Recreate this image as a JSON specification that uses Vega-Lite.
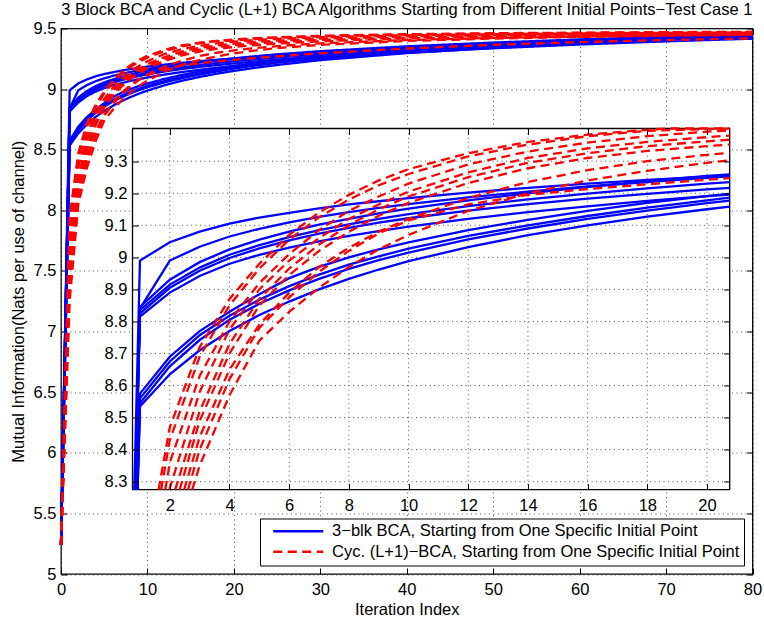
{
  "$schema": "https://vega.github.io/schema/vega-lite/v6.json",
  "background": "white",
  "padding": {"left": 10, "top": 1.5, "right": 0, "bottom": 0},
  "width": 691.5,
  "height": 545.5,
  "title": {
    "text": "3 Block BCA and Cyclic (L+1) BCA Algorithms Starting from Different Initial Points−Test Case 1",
    "fontSize": 16.5,
    "fontWeight": "normal",
    "color": "black",
    "frame": "group",
    "anchor": "middle",
    "offset": 2.5
  },
  "view": {"stroke": "black", "strokeWidth": 1.3},
  "config": {
    "font": "Liberation Sans",
    "axis": {
      "domain": false,
      "tickSize": -6,
      "tickColor": "black",
      "tickWidth": 1,
      "labelFontSize": 16.5,
      "labelColor": "black",
      "labelFlush": false,
      "labelOverlap": false,
      "labelBound": false,
      "titleFontSize": 16.5,
      "titleFontWeight": "normal",
      "titleColor": "black",
      "gridColor": "#555555",
      "gridDash": [1, 3.5],
      "gridOpacity": 1,
      "gridWidth": 1
    },
    "legend": {
      "orient": "bottom-right",
      "offset": 8.5,
      "fillColor": "white",
      "strokeColor": "black",
      "padding": 4.5,
      "symbolType": "M-5,0H5",
      "symbolSize": 100,
      "symbolOffset": 25.5,
      "symbolStrokeWidth": 2.3,
      "labelFontSize": 16.5,
      "labelColor": "black",
      "labelLimit": 700,
      "labelOffset": 25.6,
      "rowPadding": 3.5
    }
  },
  "datasets": {
    "blue": [
      {"x": 0, "B1": 5.24, "B2": 5.24, "B3": 5.24, "B4": 5.24, "B5": 5.24, "B6": 5.24, "B7": 5.24, "B8": 5.24, "B9": 5.24, "B10": 5.24},
      {"x": 1, "B1": 8.99, "B2": 8.84, "B3": 8.845, "B4": 8.835, "B5": 8.825, "B6": 8.815, "B7": 8.575, "B8": 8.56, "B9": 8.545, "B10": 8.535},
      {"x": 2, "B1": 9.047, "B2": 8.99, "B3": 8.93, "B4": 8.915, "B5": 8.905, "B6": 8.89, "B7": 8.69, "B8": 8.675, "B9": 8.66, "B10": 8.635},
      {"x": 3, "B1": 9.08, "B2": 9.033, "B3": 8.985, "B4": 8.968, "B5": 8.958, "B6": 8.942, "B7": 8.77, "B8": 8.757, "B9": 8.742, "B10": 8.71},
      {"x": 4, "B1": 9.105, "B2": 9.065, "B3": 9.025, "B4": 9.008, "B5": 8.998, "B6": 8.98, "B7": 8.83, "B8": 8.818, "B9": 8.805, "B10": 8.77},
      {"x": 5, "B1": 9.124, "B2": 9.089, "B3": 9.055, "B4": 9.038, "B5": 9.028, "B6": 9.008, "B7": 8.885, "B8": 8.868, "B9": 8.855, "B10": 8.82},
      {"x": 6, "B1": 9.139, "B2": 9.109, "B3": 9.08, "B4": 9.063, "B5": 9.053, "B6": 9.03, "B7": 8.935, "B8": 8.91, "B9": 8.897, "B10": 8.862},
      {"x": 7, "B1": 9.153, "B2": 9.126, "B3": 9.102, "B4": 9.085, "B5": 9.074, "B6": 9.05, "B7": 8.97, "B8": 8.946, "B9": 8.933, "B10": 8.9},
      {"x": 8, "B1": 9.165, "B2": 9.141, "B3": 9.12, "B4": 9.103, "B5": 9.092, "B6": 9.067, "B7": 9.0, "B8": 8.977, "B9": 8.964, "B10": 8.933},
      {"x": 9, "B1": 9.175, "B2": 9.154, "B3": 9.137, "B4": 9.12, "B5": 9.108, "B6": 9.082, "B7": 9.025, "B8": 9.003, "B9": 8.991, "B10": 8.962},
      {"x": 10, "B1": 9.185, "B2": 9.166, "B3": 9.152, "B4": 9.135, "B5": 9.122, "B6": 9.096, "B7": 9.047, "B8": 9.027, "B9": 9.015, "B10": 8.988},
      {"x": 12, "B1": 9.202, "B2": 9.187, "B3": 9.178, "B4": 9.16, "B5": 9.146, "B6": 9.12, "B7": 9.085, "B8": 9.067, "B9": 9.056, "B10": 9.032},
      {"x": 14, "B1": 9.217, "B2": 9.205, "B3": 9.2, "B4": 9.181, "B5": 9.166, "B6": 9.141, "B7": 9.117, "B8": 9.1, "B9": 9.09, "B10": 9.069},
      {"x": 16, "B1": 9.23, "B2": 9.221, "B3": 9.22, "B4": 9.199, "B5": 9.183, "B6": 9.159, "B7": 9.145, "B8": 9.129, "B9": 9.12, "B10": 9.1},
      {"x": 18, "B1": 9.242, "B2": 9.235, "B3": 9.238, "B4": 9.215, "B5": 9.198, "B6": 9.176, "B7": 9.17, "B8": 9.155, "B9": 9.146, "B10": 9.127},
      {"x": 20, "B1": 9.252, "B2": 9.248, "B3": 9.254, "B4": 9.23, "B5": 9.212, "B6": 9.191, "B7": 9.191, "B8": 9.178, "B9": 9.169, "B10": 9.15},
      {"x": 22, "B1": 9.263, "B2": 9.26, "B3": 9.268, "B4": 9.243, "B5": 9.225, "B6": 9.205, "B7": 9.21, "B8": 9.198, "B9": 9.19, "B10": 9.171},
      {"x": 25, "B1": 9.276, "B2": 9.276, "B3": 9.287, "B4": 9.261, "B5": 9.243, "B6": 9.225, "B7": 9.236, "B8": 9.225, "B9": 9.217, "B10": 9.199},
      {"x": 30, "B1": 9.297, "B2": 9.299, "B3": 9.313, "B4": 9.287, "B5": 9.27, "B6": 9.254, "B7": 9.272, "B8": 9.262, "B9": 9.255, "B10": 9.239},
      {"x": 40, "B1": 9.332, "B2": 9.339, "B3": 9.353, "B4": 9.327, "B5": 9.312, "B6": 9.3, "B7": 9.323, "B8": 9.316, "B9": 9.31, "B10": 9.297},
      {"x": 50, "B1": 9.362, "B2": 9.371, "B3": 9.384, "B4": 9.359, "B5": 9.346, "B6": 9.337, "B7": 9.361, "B8": 9.355, "B9": 9.35, "B10": 9.34},
      {"x": 60, "B1": 9.388, "B2": 9.399, "B3": 9.41, "B4": 9.386, "B5": 9.375, "B6": 9.368, "B7": 9.391, "B8": 9.386, "B9": 9.382, "B10": 9.374},
      {"x": 70, "B1": 9.413, "B2": 9.423, "B3": 9.432, "B4": 9.409, "B5": 9.4, "B6": 9.394, "B7": 9.415, "B8": 9.41, "B9": 9.407, "B10": 9.4},
      {"x": 80, "B1": 9.435, "B2": 9.445, "B3": 9.45, "B4": 9.428, "B5": 9.422, "B6": 9.416, "B7": 9.435, "B8": 9.43, "B9": 9.428, "B10": 9.422}
    ],
    "red": [
      {"x": 0, "R1": 5.24, "R2": 5.24, "R3": 5.24, "R4": 5.24, "R5": 5.24, "R6": 5.24, "R7": 5.24, "R8": 5.24, "R9": 5.24},
      {"x": 1, "R1": 7.95, "R2": 7.9, "R3": 7.8, "R4": 7.7, "R5": 7.6, "R6": 7.5, "R7": 7.4, "R8": 7.25, "R9": 7.35},
      {"x": 2, "R1": 8.47, "R2": 8.43, "R3": 8.36, "R4": 8.28, "R5": 8.22, "R6": 8.17, "R7": 8.12, "R8": 8.05, "R9": 8.08},
      {"x": 3, "R1": 8.72, "R2": 8.69, "R3": 8.63, "R4": 8.58, "R5": 8.52, "R6": 8.49, "R7": 8.44, "R8": 8.35, "R9": 8.4},
      {"x": 4, "R1": 8.87, "R2": 8.85, "R3": 8.8, "R4": 8.775, "R5": 8.73, "R6": 8.7, "R7": 8.65, "R8": 8.57, "R9": 8.62},
      {"x": 5, "R1": 8.98, "R2": 8.965, "R3": 8.92, "R4": 8.9, "R5": 8.87, "R6": 8.85, "R7": 8.79, "R8": 8.74, "R9": 8.78},
      {"x": 6, "R1": 9.07, "R2": 9.055, "R3": 9.01, "R4": 8.99, "R5": 8.965, "R6": 8.945, "R7": 8.89, "R8": 8.83, "R9": 8.875},
      {"x": 7, "R1": 9.14, "R2": 9.125, "R3": 9.085, "R4": 9.06, "R5": 9.04, "R6": 9.02, "R7": 8.97, "R8": 8.905, "R9": 8.955},
      {"x": 8, "R1": 9.195, "R2": 9.18, "R3": 9.145, "R4": 9.12, "R5": 9.1, "R6": 9.08, "R7": 9.03, "R8": 8.97, "R9": 9.02},
      {"x": 9, "R1": 9.24, "R2": 9.225, "R3": 9.19, "R4": 9.165, "R5": 9.15, "R6": 9.13, "R7": 9.08, "R8": 9.025, "R9": 9.075},
      {"x": 10, "R1": 9.275, "R2": 9.26, "R3": 9.23, "R4": 9.205, "R5": 9.19, "R6": 9.17, "R7": 9.12, "R8": 9.07, "R9": 9.115},
      {"x": 12, "R1": 9.325, "R2": 9.315, "R3": 9.29, "R4": 9.265, "R5": 9.25, "R6": 9.232, "R7": 9.185, "R8": 9.145, "R9": 9.165},
      {"x": 14, "R1": 9.36, "R2": 9.352, "R3": 9.33, "R4": 9.31, "R5": 9.295, "R6": 9.278, "R7": 9.235, "R8": 9.2, "R9": 9.195},
      {"x": 16, "R1": 9.383, "R2": 9.378, "R3": 9.358, "R4": 9.34, "R5": 9.325, "R6": 9.31, "R7": 9.272, "R8": 9.24, "R9": 9.213},
      {"x": 18, "R1": 9.398, "R2": 9.395, "R3": 9.378, "R4": 9.36, "R5": 9.347, "R6": 9.332, "R7": 9.3, "R8": 9.27, "R9": 9.228},
      {"x": 20, "R1": 9.41, "R2": 9.4, "R3": 9.392, "R4": 9.375, "R5": 9.362, "R6": 9.347, "R7": 9.32, "R8": 9.295, "R9": 9.242},
      {"x": 22, "R1": 9.418, "R2": 9.412, "R3": 9.402, "R4": 9.387, "R5": 9.374, "R6": 9.36, "R7": 9.336, "R8": 9.315, "R9": 9.254},
      {"x": 25, "R1": 9.428, "R2": 9.424, "R3": 9.414, "R4": 9.4, "R5": 9.388, "R6": 9.376, "R7": 9.355, "R8": 9.338, "R9": 9.27},
      {"x": 30, "R1": 9.44, "R2": 9.436, "R3": 9.428, "R4": 9.416, "R5": 9.405, "R6": 9.395, "R7": 9.378, "R8": 9.365, "R9": 9.295},
      {"x": 40, "R1": 9.453, "R2": 9.45, "R3": 9.444, "R4": 9.435, "R5": 9.426, "R6": 9.418, "R7": 9.405, "R8": 9.397, "R9": 9.335},
      {"x": 50, "R1": 9.461, "R2": 9.458, "R3": 9.453, "R4": 9.446, "R5": 9.44, "R6": 9.433, "R7": 9.422, "R8": 9.417, "R9": 9.365},
      {"x": 60, "R1": 9.466, "R2": 9.463, "R3": 9.459, "R4": 9.453, "R5": 9.448, "R6": 9.443, "R7": 9.434, "R8": 9.43, "R9": 9.388},
      {"x": 70, "R1": 9.47, "R2": 9.467, "R3": 9.463, "R4": 9.458, "R5": 9.454, "R6": 9.45, "R7": 9.443, "R8": 9.44, "R9": 9.405},
      {"x": 80, "R1": 9.473, "R2": 9.47, "R3": 9.466, "R4": 9.462, "R5": 9.458, "R6": 9.455, "R7": 9.45, "R8": 9.447, "R9": 9.418}
    ],
    "blue_inset": [
      {"x": 0.81, "B1": 8.275},
      {"x": 0.843, "B2": 8.275, "B3": 8.275, "B4": 8.275},
      {"x": 0.848, "B5": 8.275, "B6": 8.275},
      {"x": 0.91, "B7": 8.275, "B8": 8.275},
      {"x": 0.92, "B9": 8.275, "B10": 8.275},
      {"x": 1, "B1": 8.99, "B2": 8.84, "B3": 8.845, "B4": 8.835, "B5": 8.825, "B6": 8.815, "B7": 8.575, "B8": 8.56, "B9": 8.545, "B10": 8.535},
      {"x": 2, "B1": 9.047, "B2": 8.99, "B3": 8.93, "B4": 8.915, "B5": 8.905, "B6": 8.89, "B7": 8.69, "B8": 8.675, "B9": 8.66, "B10": 8.635},
      {"x": 3, "B1": 9.08, "B2": 9.033, "B3": 8.985, "B4": 8.968, "B5": 8.958, "B6": 8.942, "B7": 8.77, "B8": 8.757, "B9": 8.742, "B10": 8.71},
      {"x": 4, "B1": 9.105, "B2": 9.065, "B3": 9.025, "B4": 9.008, "B5": 8.998, "B6": 8.98, "B7": 8.83, "B8": 8.818, "B9": 8.805, "B10": 8.77},
      {"x": 5, "B1": 9.124, "B2": 9.089, "B3": 9.055, "B4": 9.038, "B5": 9.028, "B6": 9.008, "B7": 8.885, "B8": 8.868, "B9": 8.855, "B10": 8.82},
      {"x": 6, "B1": 9.139, "B2": 9.109, "B3": 9.08, "B4": 9.063, "B5": 9.053, "B6": 9.03, "B7": 8.935, "B8": 8.91, "B9": 8.897, "B10": 8.862},
      {"x": 7, "B1": 9.153, "B2": 9.126, "B3": 9.102, "B4": 9.085, "B5": 9.074, "B6": 9.05, "B7": 8.97, "B8": 8.946, "B9": 8.933, "B10": 8.9},
      {"x": 8, "B1": 9.165, "B2": 9.141, "B3": 9.12, "B4": 9.103, "B5": 9.092, "B6": 9.067, "B7": 9.0, "B8": 8.977, "B9": 8.964, "B10": 8.933},
      {"x": 9, "B1": 9.175, "B2": 9.154, "B3": 9.137, "B4": 9.12, "B5": 9.108, "B6": 9.082, "B7": 9.025, "B8": 9.003, "B9": 8.991, "B10": 8.962},
      {"x": 10, "B1": 9.185, "B2": 9.166, "B3": 9.152, "B4": 9.135, "B5": 9.122, "B6": 9.096, "B7": 9.047, "B8": 9.027, "B9": 9.015, "B10": 8.988},
      {"x": 12, "B1": 9.202, "B2": 9.187, "B3": 9.178, "B4": 9.16, "B5": 9.146, "B6": 9.12, "B7": 9.085, "B8": 9.067, "B9": 9.056, "B10": 9.032},
      {"x": 14, "B1": 9.217, "B2": 9.205, "B3": 9.2, "B4": 9.181, "B5": 9.166, "B6": 9.141, "B7": 9.117, "B8": 9.1, "B9": 9.09, "B10": 9.069},
      {"x": 16, "B1": 9.23, "B2": 9.221, "B3": 9.22, "B4": 9.199, "B5": 9.183, "B6": 9.159, "B7": 9.145, "B8": 9.129, "B9": 9.12, "B10": 9.1},
      {"x": 18, "B1": 9.242, "B2": 9.235, "B3": 9.238, "B4": 9.215, "B5": 9.198, "B6": 9.176, "B7": 9.17, "B8": 9.155, "B9": 9.146, "B10": 9.127},
      {"x": 20, "B1": 9.252, "B2": 9.248, "B3": 9.254, "B4": 9.23, "B5": 9.212, "B6": 9.191, "B7": 9.191, "B8": 9.178, "B9": 9.169, "B10": 9.15},
      {"x": 20.76, "B1": 9.256, "B2": 9.253, "B3": 9.259, "B4": 9.235, "B5": 9.217, "B6": 9.196, "B7": 9.198, "B8": 9.186, "B9": 9.177, "B10": 9.158}
    ],
    "red_inset": [
      {"x": 1.625, "R1": 8.275},
      {"x": 1.71, "R2": 8.275},
      {"x": 1.85, "R3": 8.275},
      {"x": 1.99, "R4": 8.275},
      {"x": 2, "R1": 8.47, "R2": 8.43, "R3": 8.36, "R4": 8.28},
      {"x": 2.18, "R5": 8.275},
      {"x": 2.33, "R6": 8.275},
      {"x": 2.48, "R7": 8.275},
      {"x": 2.61, "R9": 8.275},
      {"x": 2.75, "R8": 8.275},
      {"x": 3, "R1": 8.72, "R2": 8.69, "R3": 8.63, "R4": 8.58, "R5": 8.52, "R6": 8.49, "R7": 8.44, "R8": 8.35, "R9": 8.4},
      {"x": 4, "R1": 8.87, "R2": 8.85, "R3": 8.8, "R4": 8.775, "R5": 8.73, "R6": 8.7, "R7": 8.65, "R8": 8.57, "R9": 8.62},
      {"x": 5, "R1": 8.98, "R2": 8.965, "R3": 8.92, "R4": 8.9, "R5": 8.87, "R6": 8.85, "R7": 8.79, "R8": 8.74, "R9": 8.78},
      {"x": 6, "R1": 9.07, "R2": 9.055, "R3": 9.01, "R4": 8.99, "R5": 8.965, "R6": 8.945, "R7": 8.89, "R8": 8.83, "R9": 8.875},
      {"x": 7, "R1": 9.14, "R2": 9.125, "R3": 9.085, "R4": 9.06, "R5": 9.04, "R6": 9.02, "R7": 8.97, "R8": 8.905, "R9": 8.955},
      {"x": 8, "R1": 9.195, "R2": 9.18, "R3": 9.145, "R4": 9.12, "R5": 9.1, "R6": 9.08, "R7": 9.03, "R8": 8.97, "R9": 9.02},
      {"x": 9, "R1": 9.24, "R2": 9.225, "R3": 9.19, "R4": 9.165, "R5": 9.15, "R6": 9.13, "R7": 9.08, "R8": 9.025, "R9": 9.075},
      {"x": 10, "R1": 9.275, "R2": 9.26, "R3": 9.23, "R4": 9.205, "R5": 9.19, "R6": 9.17, "R7": 9.12, "R8": 9.07, "R9": 9.115},
      {"x": 12, "R1": 9.325, "R2": 9.315, "R3": 9.29, "R4": 9.265, "R5": 9.25, "R6": 9.232, "R7": 9.185, "R8": 9.145, "R9": 9.165},
      {"x": 14, "R1": 9.36, "R2": 9.352, "R3": 9.33, "R4": 9.31, "R5": 9.295, "R6": 9.278, "R7": 9.235, "R8": 9.2, "R9": 9.195},
      {"x": 16, "R1": 9.383, "R2": 9.378, "R3": 9.358, "R4": 9.34, "R5": 9.325, "R6": 9.31, "R7": 9.272, "R8": 9.24, "R9": 9.213},
      {"x": 18, "R1": 9.398, "R2": 9.395, "R3": 9.378, "R4": 9.36, "R5": 9.347, "R6": 9.332, "R7": 9.3, "R8": 9.27, "R9": 9.228},
      {"x": 18.7, "R1": 9.402},
      {"x": 20, "R2": 9.4, "R3": 9.392, "R4": 9.375, "R5": 9.362, "R6": 9.347, "R7": 9.32, "R8": 9.295, "R9": 9.242},
      {"x": 20.76, "R1": 9.402, "R2": 9.402, "R3": 9.396, "R4": 9.38, "R5": 9.367, "R6": 9.352, "R7": 9.326, "R8": 9.303, "R9": 9.247}
    ]
  },
  "layer": [
    {
      "layer": [
        {
          "data": {"name": "blue"},
          "transform": [{"fold": ["B1", "B2", "B3", "B4", "B5", "B6", "B7", "B8", "B9", "B10"], "as": ["curve", "v"]}],
          "mark": {"type": "line", "strokeWidth": 2.3},
          "encoding": {
            "x": {
              "field": "x", "type": "quantitative",
              "scale": {"domain": [0, 80], "nice": false, "zero": false},
              "axis": {"orient": "bottom", "title": "Iteration Index", "values": [0, 10, 20, 30, 40, 50, 60, 70, 80], "grid": true, "labelPadding": 13.5, "titlePadding": 3}
            },
            "y": {
              "field": "v", "type": "quantitative",
              "scale": {"domain": [5, 9.5], "nice": false, "zero": false},
              "axis": {"orient": "left", "title": "Mutual Information(Nats per use of channel)", "values": [5, 5.5, 6, 6.5, 7, 7.5, 8, 8.5, 9, 9.5], "format": "~g", "grid": true, "labelPadding": 11, "titlePadding": 7}
            },
            "detail": {"field": "curve"},
            "color": {
              "datum": "3−blk BCA, Starting from One Specific Initial Point",
              "scale": {"domain": ["3−blk BCA, Starting from One Specific Initial Point", "Cyc. (L+1)−BCA, Starting from One Specific Initial Point"], "range": ["#0000ff", "#ff0000"]},
              "legend": {"title": null}
            },
            "strokeDash": {
              "datum": "3−blk BCA, Starting from One Specific Initial Point",
              "scale": {"domain": ["3−blk BCA, Starting from One Specific Initial Point", "Cyc. (L+1)−BCA, Starting from One Specific Initial Point"], "range": [[1, 0], [9, 5.5]]},
              "legend": {"title": null}
            }
          }
        },
        {
          "data": {"name": "red"},
          "transform": [{"fold": ["R1", "R2", "R3", "R4", "R5", "R6", "R7", "R8", "R9"], "as": ["curve", "v"]}],
          "mark": {"type": "line", "strokeWidth": 2.3},
          "encoding": {
            "x": {
              "field": "x", "type": "quantitative",
              "axis": {"orient": "top", "title": null, "values": [0, 10, 20, 30, 40, 50, 60, 70, 80], "grid": false, "labels": false}
            },
            "y": {
              "field": "v", "type": "quantitative",
              "axis": {"orient": "right", "title": null, "values": [5, 5.5, 6, 6.5, 7, 7.5, 8, 8.5, 9, 9.5], "grid": false, "labels": false}
            },
            "detail": {"field": "curve"},
            "color": {"datum": "Cyc. (L+1)−BCA, Starting from One Specific Initial Point"},
            "strokeDash": {"datum": "Cyc. (L+1)−BCA, Starting from One Specific Initial Point"}
          }
        }
      ],
      "resolve": {"axis": {"x": "independent", "y": "independent"}}
    },
    {
      "layer": [
        {
          "data": {"values": [{"a": 1}]},
          "mark": {"type": "rect", "fill": "white", "stroke": "black", "strokeWidth": 1.3},
          "encoding": {
            "x": {"datum": 0.75, "type": "quantitative", "scale": {"domain": [0.75, 20.76], "range": [71.5, 668.7], "nice": false, "zero": false}, "axis": null},
            "x2": {"datum": 20.76},
            "y": {"datum": 8.275, "type": "quantitative", "scale": {"domain": [8.275, 9.402], "range": [461.2, 100], "nice": false, "zero": false}, "axis": null},
            "y2": {"datum": 9.402}
          }
        },
        {
          "data": {"values": [{"g": 2}, {"g": 4}, {"g": 6}, {"g": 8}, {"g": 10}, {"g": 12}, {"g": 14}, {"g": 16}, {"g": 18}, {"g": 20}]},
          "mark": {"type": "rule", "color": "#555555", "strokeDash": [1, 3.5], "strokeWidth": 1},
          "encoding": {
            "x": {"field": "g", "type": "quantitative", "axis": null},
            "y": {"datum": 8.275, "type": "quantitative", "axis": null},
            "y2": {"datum": 9.402}
          }
        },
        {
          "data": {"values": [{"h": 8.3}, {"h": 8.4}, {"h": 8.5}, {"h": 8.6}, {"h": 8.7}, {"h": 8.8}, {"h": 8.9}, {"h": 9.0}, {"h": 9.1}, {"h": 9.2}, {"h": 9.3}]},
          "mark": {"type": "rule", "color": "#555555", "strokeDash": [1, 3.5], "strokeWidth": 1},
          "encoding": {
            "y": {"field": "h", "type": "quantitative", "axis": null},
            "x": {"datum": 0.75, "type": "quantitative", "axis": null},
            "x2": {"datum": 20.76}
          }
        },
        {
          "data": {"name": "blue_inset"},
          "transform": [
            {"fold": ["B1", "B2", "B3", "B4", "B5", "B6", "B7", "B8", "B9", "B10"], "as": ["curve", "v"]},
            {"filter": "isValid(datum.v)"}
          ],
          "mark": {"type": "line", "color": "#0000ff", "strokeWidth": 2.3},
          "encoding": {
            "x": {
              "field": "x", "type": "quantitative",
              "axis": {"orient": "bottom", "offset": -84.3, "title": null, "values": [2, 4, 6, 8, 10, 12, 14, 16, 18, 20], "grid": false, "labelPadding": 14, "zindex": 1}
            },
            "y": {
              "field": "v", "type": "quantitative",
              "axis": {"orient": "left", "offset": -71.5, "title": null, "values": [8.3, 8.4, 8.5, 8.6, 8.7, 8.8, 8.9, 9, 9.1, 9.2, 9.3], "format": "~g", "grid": false, "labelPadding": 11.5, "zindex": 1}
            },
            "detail": {"field": "curve"}
          }
        },
        {
          "data": {"name": "red_inset"},
          "transform": [
            {"fold": ["R1", "R2", "R3", "R4", "R5", "R6", "R7", "R8", "R9"], "as": ["curve", "v"]},
            {"filter": "isValid(datum.v)"}
          ],
          "mark": {"type": "line", "color": "#ff0000", "strokeWidth": 2.3, "strokeDash": [9, 5.5]},
          "encoding": {
            "x": {
              "field": "x", "type": "quantitative",
              "axis": {"orient": "top", "offset": -100, "title": null, "values": [2, 4, 6, 8, 10, 12, 14, 16, 18, 20], "grid": false, "labels": false, "zindex": 1}
            },
            "y": {
              "field": "v", "type": "quantitative",
              "axis": {"orient": "right", "offset": -22.8, "title": null, "values": [8.3, 8.4, 8.5, 8.6, 8.7, 8.8, 8.9, 9, 9.1, 9.2, 9.3], "grid": false, "labels": false, "zindex": 1}
            },
            "detail": {"field": "curve"}
          }
        }
      ],
      "resolve": {"axis": {"x": "independent", "y": "independent"}}
    }
  ],
  "resolve": {"scale": {"x": "independent", "y": "independent"}, "axis": {"x": "independent", "y": "independent"}}
}
